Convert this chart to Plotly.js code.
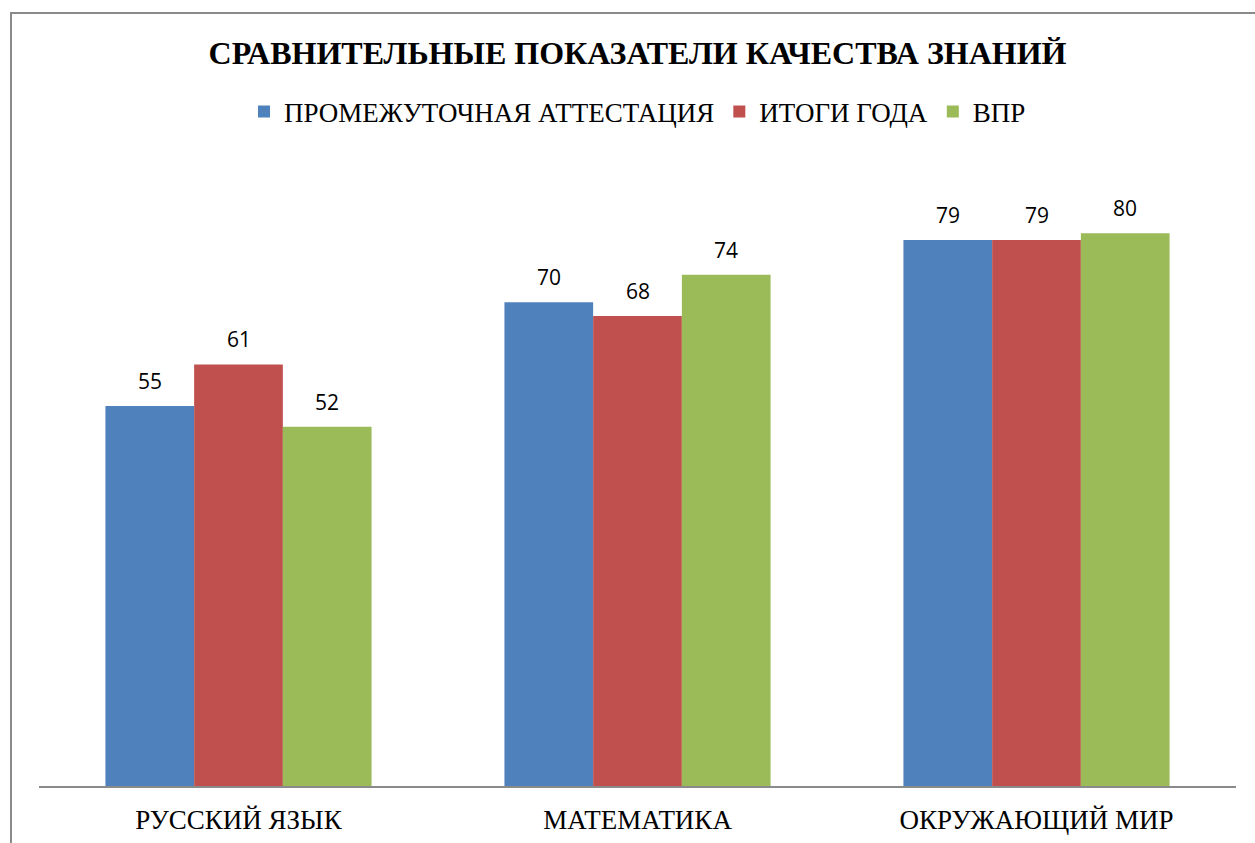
<!DOCTYPE html>
<html>
<head>
<meta charset="utf-8">
<script src="https://cdn.plot.ly/plotly-3.0.1.min.js"></script>
<style>
html,body{margin:0;padding:0;background:#fff;overflow:hidden;}
#wrap{position:relative;width:1255px;height:843px;}
#chart{position:absolute;left:0;top:0;width:1255px;height:843px;}
#frame{position:absolute;left:10px;top:12px;width:1300px;height:900px;border-left:2px solid #8a8a8a;border-top:2px solid #8a8a8a;pointer-events:none;}
</style>
</head>
<body>
<div id="wrap"><div id="chart"></div><div id="frame"></div></div>
<script>
var categories = ["РУССКИЙ ЯЗЫК", "МАТЕМАТИКА", "ОКРУЖАЮЩИЙ МИР"];
var seriesNames = ["ПРОМЕЖУТОЧНАЯ АТТЕСТАЦИЯ", "ИТОГИ ГОДА", "ВПР"];
var intermediate = [55, 70, 79];
var yearResults = [61, 68, 79];
var vpr = [52, 74, 80];
var colors = ["#4F81BD", "#C0504D", "#9BBB59"];

var seriesValues = [intermediate, yearResults, vpr];
var SERIF = "Liberation Serif";
var W = 1255, H = 843;
var margin = {l: 39, r: 19, t: 95, b: 57};
var bargap = 0.333;
var plotW = W - margin.l - margin.r;
var plotH = H - margin.t - margin.b;
var catW = plotW / categories.length;
var barW = catW * (1 - bargap) / seriesValues.length;

var traces = seriesValues.map(function (vals, i) {
  return {
    type: "bar",
    name: seriesNames[i],
    x: categories,
    y: vals,
    marker: {color: colors[i], line: {width: 0}},
    hoverinfo: "none"
  };
});

var annotations = [];
seriesValues.forEach(function (vals, i) {
  vals.forEach(function (v, j) {
    annotations.push({
      x: categories[j], y: v, xref: "x", yref: "y",
      text: String(v), showarrow: false,
      xanchor: "center", yanchor: "middle",
      xshift: (i - 1) * barW, yshift: 25,
      font: {family: "Open Sans", size: 21, color: "#000"}
    });
  });
});

var layout = {
  width: W, height: H,
  margin: margin,
  paper_bgcolor: "#fff", plot_bgcolor: "#fff",
  title: {
    text: "<b>СРАВНИТЕЛЬНЫЕ ПОКАЗАТЕЛИ КАЧЕСТВА ЗНАНИЙ</b>",
    font: {family: SERIF, size: 32, color: "#000"},
    x: 0.5, xref: "paper", xanchor: "center",
    y: 1 - 53 / H, yref: "container", yanchor: "middle",
    automargin: false
  },
  barmode: "group",
  bargap: bargap,
  bargroupgap: 0,
  showlegend: true,
  legend: {
    orientation: "h", x: 0.5, xanchor: "center",
    y: (H - margin.b - 112) / plotH, yref: "paper", yanchor: "middle",
    font: {family: SERIF, size: 27, color: "#000"},
    itemwidth: 30, traceorder: "normal", bgcolor: "rgba(0,0,0,0)"
  },
  xaxis: {
    type: "category",
    showline: true, linecolor: "#8a8a8a", linewidth: 2,
    ticks: "", showgrid: false, zeroline: false,
    tickfont: {family: SERIF, size: 27, color: "#000"},
    ticklabelstandoff: 9
  },
  yaxis: {
    range: [0, 100], visible: false, showgrid: false, zeroline: false, fixedrange: true
  },
  annotations: annotations
};

Plotly.newPlot("chart", traces, layout, {displayModeBar: false, staticPlot: true});
</script>
</body>
</html>
